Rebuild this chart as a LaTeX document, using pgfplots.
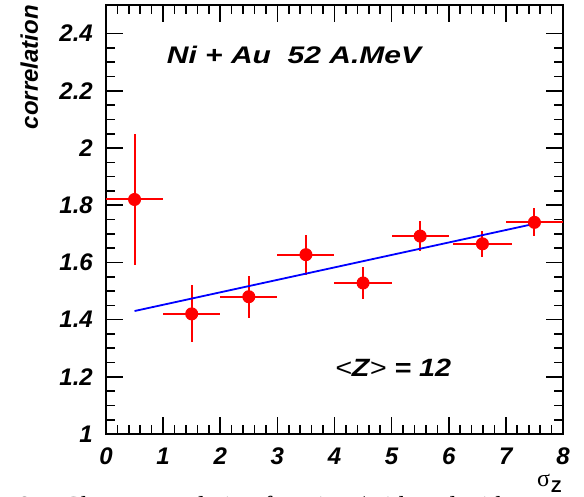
\documentclass[border=0pt]{standalone}
\usepackage{fontspec}
\setmainfont{Liberation Serif}
\setsansfont{Liberation Sans}
\usepackage{pgfplots}
\pgfplotsset{compat=1.18}
\begin{document}
\begin{tikzpicture}
\useasboundingbox (-106pt,-62pt) rectangle (478pt,434pt);
\begin{axis}[
  at={(0pt,0pt)}, anchor=south west,
  scale only axis, width=457pt, height=429pt,
  xmin=0, xmax=8, ymin=1, ymax=2.5,
  xtick={0,1,2,3,4,5,6,7,8},
  ytick={1,1.2,1.4,1.6,1.8,2,2.2,2.4},
  minor x tick num=4, minor y tick num=3,
  xtick pos=both, ytick pos=both, tick align=inside,
  major tick length=17pt, minor tick length=9pt,
  axis line style={line width=1.8pt},
  tick style={line width=1.6pt, black},
  /pgf/number format/assume math mode=true,
  ticklabel style={font=\fontsize{24}{26}\selectfont\sffamily\bfseries\itshape, inner sep=0pt},
  yticklabel style={xshift=-13pt},
  xticklabel style={yshift=-14pt},
  error bars/error bar style={line width=2pt, red},
]
\addplot+[only marks, mark=*, color=red, line width=2pt, mark options={fill=red, draw=red, line width=1pt}, mark size=6pt,
  error bars/.cd, x dir=both, x explicit, y dir=both, y explicit, error mark=none]
  coordinates {
  (0.5,1.82) +- (0.5,0.23)
  (1.5,1.42) +- (0.5,0.10)
  (2.5,1.48) +- (0.5,0.073)
  (3.5,1.627) +- (0.5,0.07)
  (4.5,1.528) +- (0.5,0.056)
  (5.5,1.692) +- (0.5,0.052)
  (6.59,1.665) +- (0.51,0.045)
  (7.5,1.74) +- (0.5,0.049)
  };
\addplot[blue, line width=1.8pt] coordinates {(0.5,1.43) (7.5,1.735)};
\end{axis}
\node[rotate=90, anchor=base east, inner sep=0pt, font=\fontsize{24}{26}\selectfont\sffamily\bfseries\itshape] at (-68pt,429pt) {correlation};
\node[anchor=base west, inner sep=0pt, font=\fontsize{24}{26}\selectfont\sffamily\bfseries\itshape] at (60.7pt,370.7pt) {\scalebox{1.25}[1]{Ni + Au\ \ 52 A.MeV}};
\node[anchor=base west, inner sep=0pt, font=\fontsize{25}{26}\selectfont\sffamily\bfseries\itshape] at (229pt,57.3pt) {\scalebox{1.15}[1]{{\mdseries<}Z{\mdseries>} = 12}};
\node[anchor=base west, inner sep=0pt, font=\fontsize{24}{24}\selectfont] at (431pt,-52pt) {σ};
\node[anchor=base west, inner sep=0pt, font=\fontsize{17}{18}\selectfont\sffamily\bfseries] at (445pt,-58pt) {Z};
\node[anchor=base west, inner sep=0pt, font=\fontsize{26}{28}\selectfont] at (-88pt,-80pt) {8.\quad Charge correlation function (with and without};
\end{tikzpicture}
\end{document}
